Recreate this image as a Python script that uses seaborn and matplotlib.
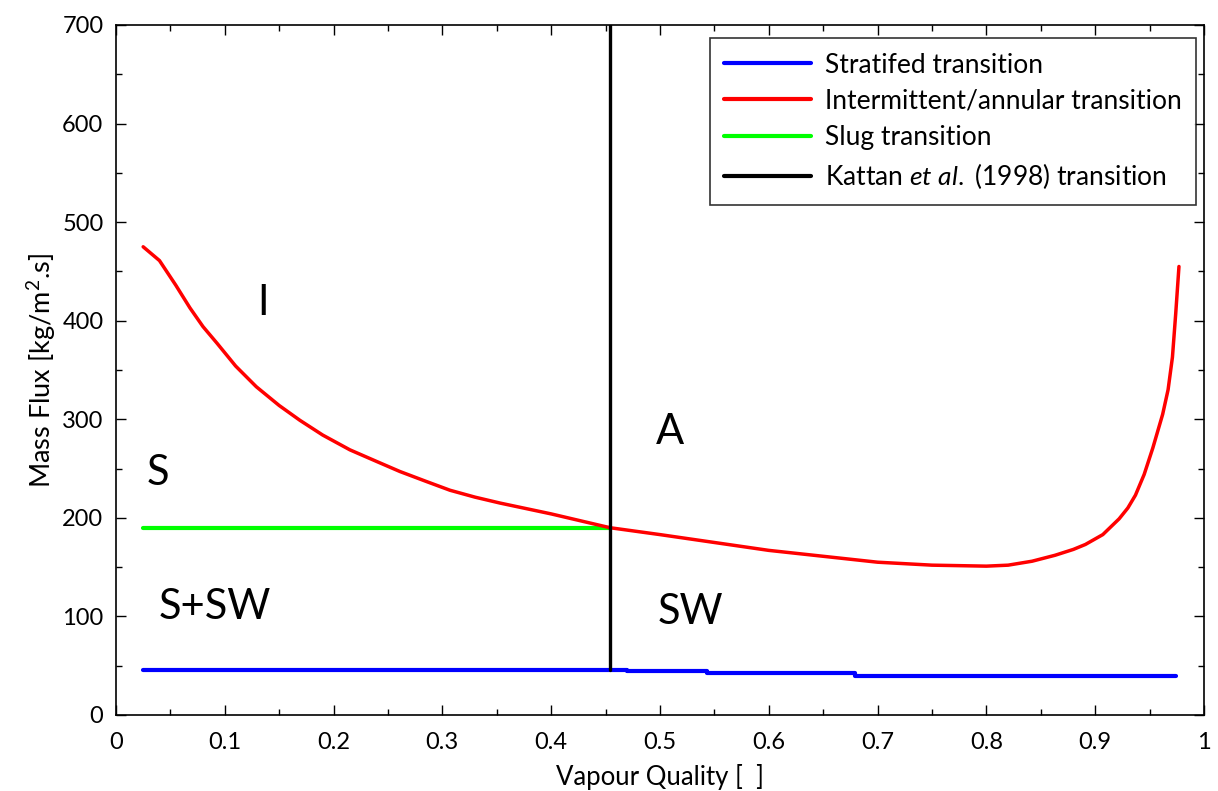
import matplotlib
matplotlib.use("Agg")
import matplotlib.pyplot as plt
from matplotlib.lines import Line2D
from matplotlib.ticker import MultipleLocator, FuncFormatter
import pandas as pd
import seaborn as sns

# Intermittent/annular transition curve
red_x = [0.025, 0.040, 0.055, 0.068, 0.080, 0.093, 0.110, 0.129, 0.150, 0.169,
         0.190, 0.215, 0.240, 0.261, 0.285, 0.307, 0.330, 0.353, 0.400, 0.454,
         0.500, 0.550, 0.600, 0.650, 0.700, 0.750, 0.800, 0.820, 0.842, 0.863,
         0.880, 0.891, 0.907, 0.922, 0.930, 0.937, 0.945, 0.953, 0.962, 0.967,
         0.971, 0.974, 0.977]
red_y = [475, 461, 436, 413, 394, 377, 354, 333, 314, 299,
         284, 269, 257, 247, 237, 228, 221, 215, 204, 190,
         183, 175, 167, 161, 155, 152, 151, 152, 156, 162,
         168, 173, 183, 199, 210, 223, 244, 271, 305, 330,
         363, 407, 455]

# Stratified transition (stepped)
blue_x = [0.025, 0.470, 0.470, 0.543, 0.543, 0.679, 0.679, 0.974]
blue_y = [46.0, 46.0, 44.5, 44.5, 42.5, 42.5, 40.0, 40.0]

# Slug transition
green_x = [0.025, 0.454]
green_y = [190, 190]

# Kattan et al. (1998) transition
black_x = [0.454, 0.454]
black_y = [46, 700]

legend_labels = ["Stratifed transition",
                 "Intermittent/annular transition",
                 "Slug transition",
                 r"Kattan $\mathit{et\ al.}$ (1998) transition"]
series_colors = ["#0000ff", "#ff0000", "#00ff00", "#000000"]

# Flow regime labels
regions = ["I", "S", "S+SW", "A", "SW"]
region_x = [0.135, 0.039, 0.091, 0.509, 0.528]
region_y = [418, 245, 110, 287, 104]

sns.set_theme(style="ticks")
plt.rcParams["font.family"] = ["Lato", "DejaVu Sans"]
plt.rcParams["mathtext.fontset"] = "custom"
plt.rcParams["mathtext.rm"] = "Lato"
plt.rcParams["mathtext.it"] = "Lato:italic"
plt.rcParams["text.color"] = "black"
plt.rcParams["axes.labelcolor"] = "black"
plt.rcParams["xtick.color"] = "black"
plt.rcParams["ytick.color"] = "black"

fig = plt.figure(figsize=(12.18, 7.91), dpi=100)
ax = fig.add_axes([0.0952, 0.0961, 0.8933, 0.8723])

def draw(xs, ys, color, lw):
    df = pd.DataFrame({"x": xs, "y": ys})
    sns.lineplot(data=df, x="x", y="y", sort=False, estimator=None,
                 color=color, lw=lw, ax=ax)

draw(blue_x, blue_y, series_colors[0], 3.0)
draw(green_x, green_y, series_colors[2], 3.0)
draw(red_x, red_y, series_colors[1], 2.5)
draw(black_x, black_y, series_colors[3], 2.4)

for t, x, y in zip(regions, region_x, region_y):
    ax.text(x, y, t, fontsize=30, ha="center", va="center", color="black")

ax.set_xlim(0, 1)
ax.set_ylim(0, 700)
ax.xaxis.set_major_locator(MultipleLocator(0.1))
ax.xaxis.set_minor_locator(MultipleLocator(0.05))
ax.yaxis.set_major_locator(MultipleLocator(100))
ax.yaxis.set_minor_locator(MultipleLocator(50))
ax.xaxis.set_major_formatter(FuncFormatter(lambda v, p: f"{round(v, 2):g}"))
ax.tick_params(which="both", direction="in", top=True, right=True,
               color="black", width=1.0)
ax.tick_params(which="major", length=7, labelsize=17, pad=9)
ax.tick_params(axis="x", which="major", pad=12)
ax.tick_params(which="minor", length=4)
for s in ax.spines.values():
    s.set_color("black")
    s.set_linewidth(1.2)

ax.set_xlabel("Vapour Quality [  ]", fontsize=18.5, labelpad=8)
ax.set_ylabel(r"Mass Flux [kg/m$^2$.s]", fontsize=19.5, labelpad=3)

handles = [Line2D([0], [0], color=c, lw=3) for c in series_colors]
leg = ax.legend(handles, legend_labels, loc="upper right", fontsize=19,
                frameon=True, fancybox=False, edgecolor="black",
                handlelength=3.3, handletextpad=0.5, labelspacing=0.42,
                borderpad=0.55, borderaxespad=0.0,
                bbox_to_anchor=(0.9926, 0.981))
leg.get_frame().set_linewidth(1.2)

fig.savefig("out.png", dpi=100, facecolor="white")
